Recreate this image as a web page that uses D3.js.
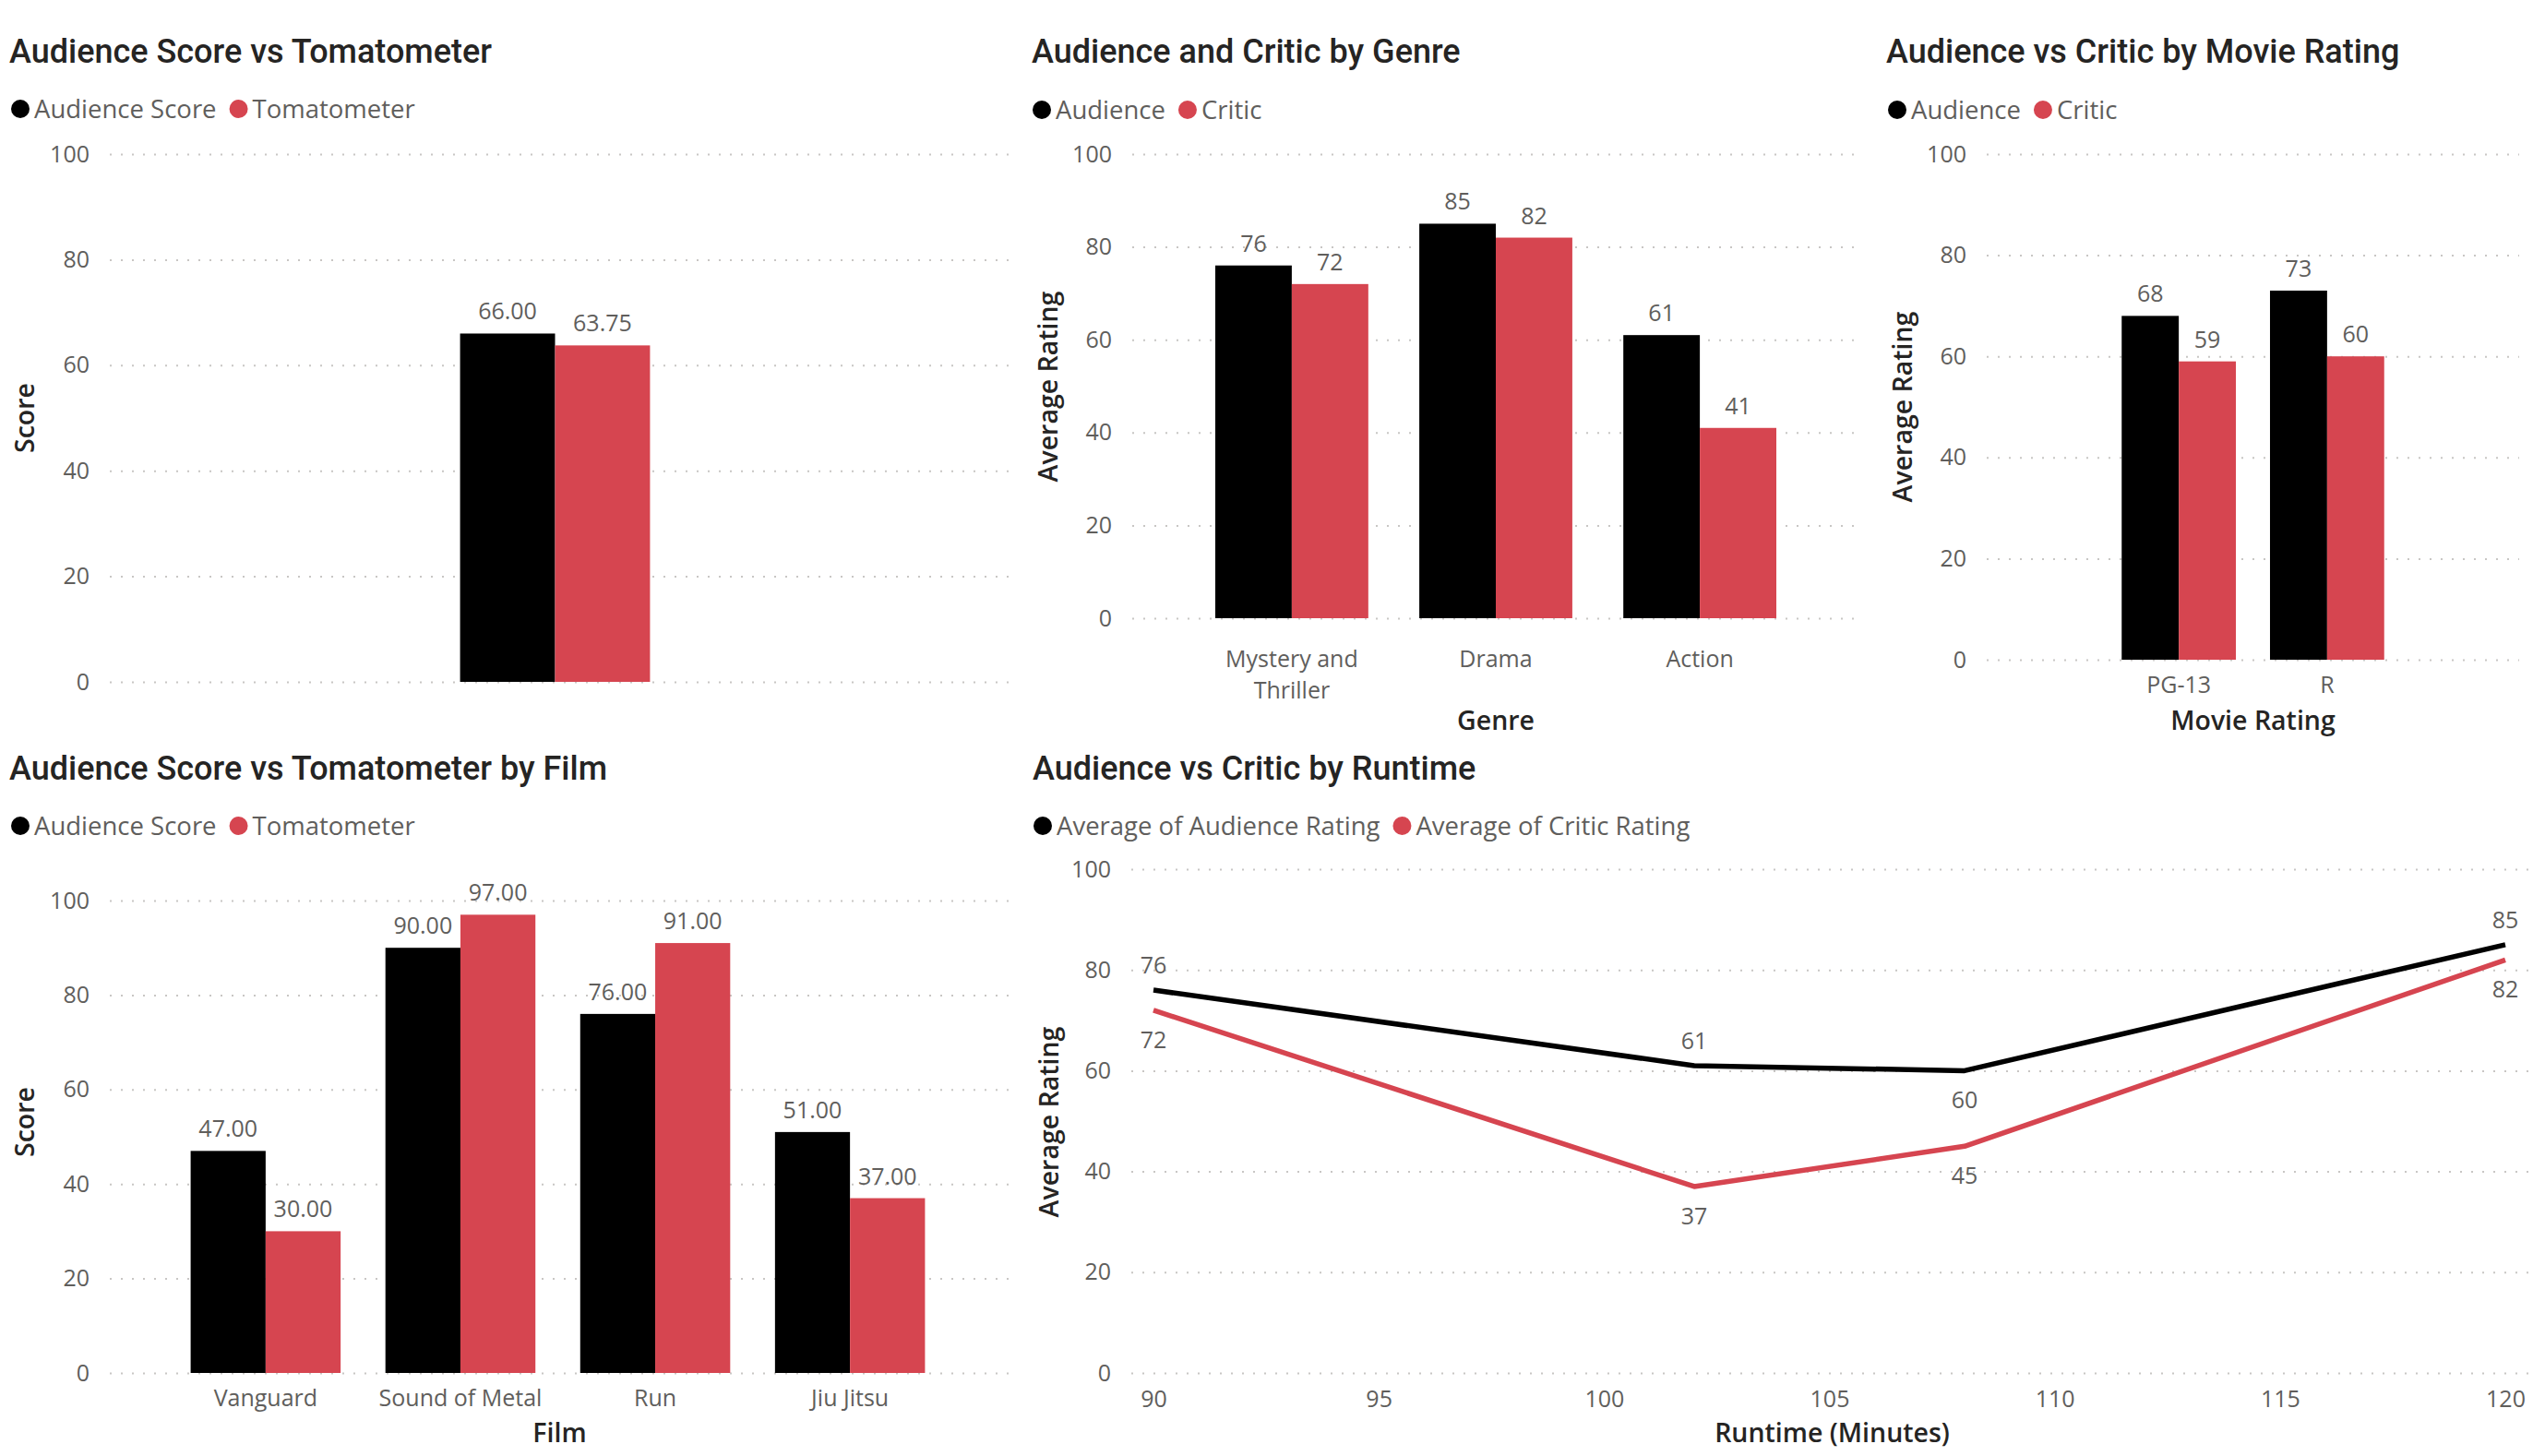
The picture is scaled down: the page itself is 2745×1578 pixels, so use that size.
<!DOCTYPE html>
<html>
<head>
<meta charset="utf-8">
<title>Audience vs Critic</title>
<script src="https://cdn.jsdelivr.net/npm/d3@7"></script>
<style>
    body { margin: 0; background: #fff; }
    svg text { font-family: "Segoe UI", "Open Sans", sans-serif; }
    .title { font-family: "DIN", Roboto, sans-serif; font-size: 36px; font-weight: 500; fill: #252423; }
    .legend-label { font-size: 27.5px; fill: #605E5C; }
    .tick-label { font-size: 25px; fill: #605E5C; }
    .value-label { font-size: 25px; fill: #605E5C; }
    .axis-title { font-size: 28.5px; font-weight: 600; fill: #252423; }
    .grid .tick line { stroke: #C8C6C4; stroke-width: 2; stroke-dasharray: 2 10; }
</style>
</head>
<body>
<svg id="dash" width="2745" height="1578"></svg>
<script>
// ─── DATA ───
const yTicks = [0, 20, 40, 60, 80, 100];
const seriesColors = ["#000000", "#D64550"];

// Audience Score vs Tomatometer (single total)
const overallSeries = ["Audience Score", "Tomatometer"];
const overallCategory = [""];
const overallAudience = [66.00];
const overallTomatometer = [63.75];

// Audience and Critic by Genre
const genreSeries = ["Audience", "Critic"];
const genres = ["Mystery and Thriller", "Drama", "Action"];
const genreAudience = [76, 85, 61];
const genreCritic = [72, 82, 41];

// Audience vs Critic by Movie Rating
const ratingSeries = ["Audience", "Critic"];
const movieRatings = ["PG-13", "R"];
const ratingAudience = [68, 73];
const ratingCritic = [59, 60];

// Audience Score vs Tomatometer by Film
const filmSeries = ["Audience Score", "Tomatometer"];
const films = ["Vanguard", "Sound of Metal", "Run", "Jiu Jitsu"];
const filmAudience = [47, 90, 76, 51];
const filmTomatometer = [30, 97, 91, 37];

// Audience vs Critic by Runtime
const runtimeSeries = ["Average of Audience Rating", "Average of Critic Rating"];
const runtimes = [90, 102, 108, 120];
const runtimeAudience = [76, 61, 60, 85];
const runtimeCritic = [72, 37, 45, 82];
const runtimeTicks = [90, 95, 100, 105, 110, 115, 120];

document.addEventListener('DOMContentLoaded', () => {
    const svg = d3.select("#dash");

    // ─── COMMON UTILS ───
    const drawLegend = (g, x, y, labels) => {
        let cx = x;
        labels.forEach((label, i) => {
            g.append("circle")
                .attr("cx", cx + 10).attr("cy", y).attr("r", 10)
                .attr("fill", seriesColors[i]);
            const t = g.append("text")
                .attr("class", "legend-label")
                .attr("x", cx + 25).attr("y", y)
                .attr("dy", "0.35em")
                .text(label);
            cx += 25 + t.node().getComputedTextLength() + 14;
        });
    };

    const drawYGrid = (g, y, left, right) => {
        g.append("g")
            .attr("class", "grid")
            .attr("transform", `translate(${left},0)`)
            .call(d3.axisLeft(y).tickValues(yTicks).tickSize(-(right - left)).tickPadding(22))
            .call(a => a.select(".domain").remove())
            .call(a => a.selectAll("text").attr("class", "tick-label"));
    };

    const drawYTitle = (g, x, y, label) => {
        g.append("text")
            .attr("class", "axis-title")
            .attr("text-anchor", "middle")
            .attr("transform", `translate(${x},${y}) rotate(-90)`)
            .attr("dy", "0.35em")
            .text(label);
    };

    // wrap long category labels onto several lines
    const wrap = (texts, width) => {
        texts.each(function() {
            const text = d3.select(this);
            const words = text.text().split(/\s+/).reverse();
            const y = text.attr("y");
            const dy = parseFloat(text.attr("dy"));
            let line = [];
            let lineNo = 0;
            let word;
            let tspan = text.text(null).append("tspan").attr("x", 0).attr("y", y).attr("dy", dy + "em");
            while ((word = words.pop())) {
                line.push(word);
                tspan.text(line.join(" "));
                if (tspan.node().getComputedTextLength() > width && line.length > 1) {
                    line.pop();
                    tspan.text(line.join(" "));
                    line = [word];
                    tspan = text.append("tspan").attr("x", 0).attr("y", y)
                        .attr("dy", (++lineNo * 1.36 + dy) + "em").text(word);
                }
            }
        });
    };

    // ─── GROUPED BAR CHART ───
    const renderBarChart = (cfg) => {
        const g = svg.append("g");

        g.append("text").attr("class", "title")
            .attr("x", cfg.titleX).attr("y", cfg.titleY).text(cfg.title);
        drawLegend(g, cfg.legendX, cfg.legendY, cfg.series);

        const x0 = d3.scaleBand()
            .domain(cfg.categories)
            .range([cfg.left, cfg.barRight || cfg.right])
            .paddingInner(cfg.padIn)
            .paddingOuter(cfg.padOut);

        const x1 = d3.scaleBand()
            .domain(d3.range(cfg.series.length))
            .range([0, x0.bandwidth()]);

        const y = d3.scaleLinear()
            .domain([0, 100])
            .range([cfg.y0, cfg.y100]);

        drawYGrid(g, y, cfg.left, cfg.right);

        const rows = cfg.categories.map((c, i) => ({
            cat: c,
            vals: cfg.values.map((s, si) => ({ si, v: s[i] }))
        }));

        const groups = g.selectAll(".group")
            .data(rows)
            .enter()
            .append("g")
            .attr("transform", d => `translate(${x0(d.cat)},0)`);

        groups.selectAll("rect")
            .data(d => d.vals)
            .enter()
            .append("rect")
            .attr("x", d => x1(d.si))
            .attr("y", d => y(d.v))
            .attr("width", x1.bandwidth())
            .attr("height", d => y(0) - y(d.v))
            .attr("fill", d => seriesColors[d.si]);

        groups.selectAll(".value-label")
            .data(d => d.vals)
            .enter()
            .append("text")
            .attr("class", "value-label")
            .attr("text-anchor", "middle")
            .attr("x", d => x1(d.si) + x1.bandwidth() / 2)
            .attr("y", d => y(d.v) - 15)
            .text(d => cfg.format(d.v));

        if (cfg.xTitle) {
            g.append("g")
                .attr("transform", `translate(0,${cfg.y0})`)
                .call(d3.axisBottom(x0).tickSize(0).tickPadding(cfg.xPad))
                .call(a => a.select(".domain").remove())
                .call(a => a.selectAll("text").attr("class", "tick-label").call(wrap, x0.step() * 0.95));

            g.append("text")
                .attr("class", "axis-title")
                .attr("text-anchor", "middle")
                .attr("x", (cfg.left + cfg.right) / 2)
                .attr("y", cfg.xTitleY)
                .text(cfg.xTitle);
        }

        drawYTitle(g, cfg.yTitleX, cfg.yTitleY, cfg.yTitle);
    };

    // ─── LINE CHART ───
    const renderLineChart = (cfg) => {
        const g = svg.append("g");

        g.append("text").attr("class", "title")
            .attr("x", cfg.titleX).attr("y", cfg.titleY).text(cfg.title);
        drawLegend(g, cfg.legendX, cfg.legendY, cfg.series);

        const x = d3.scaleLinear()
            .domain(d3.extent(cfg.xs))
            .range([cfg.x0, cfg.x1]);

        const y = d3.scaleLinear()
            .domain([0, 100])
            .range([cfg.y0, cfg.y100]);

        drawYGrid(g, y, cfg.left, cfg.right);

        g.append("g")
            .attr("transform", `translate(0,${cfg.y0})`)
            .call(d3.axisBottom(x).tickValues(runtimeTicks).tickSize(0).tickPadding(19))
            .call(a => a.select(".domain").remove())
            .call(a => a.selectAll("text").attr("class", "tick-label"));

        const line = d3.line()
            .x(d => x(d.x))
            .y(d => y(d.v));

        cfg.values.forEach((vals, si) => {
            const pts = cfg.xs.map((xv, i) => ({ x: xv, v: vals[i], side: cfg.labelSides[si][i] }));

            g.append("path")
                .datum(pts)
                .attr("d", line)
                .attr("fill", "none")
                .attr("stroke", seriesColors[si])
                .attr("stroke-width", 5.5)
                .attr("stroke-linejoin", "round");

            g.selectAll(null)
                .data(pts)
                .enter()
                .append("text")
                .attr("class", "value-label")
                .attr("text-anchor", "middle")
                .attr("x", d => x(d.x))
                .attr("y", d => d.side === "above" ? y(d.v) - 18 : y(d.v) + 41)
                .text(d => d.v);
        });

        g.append("text")
            .attr("class", "axis-title")
            .attr("text-anchor", "middle")
            .attr("x", (cfg.left + cfg.right) / 2)
            .attr("y", cfg.xTitleY)
            .text(cfg.xTitle);

        drawYTitle(g, cfg.yTitleX, cfg.yTitleY, cfg.yTitle);
    };

    // ─── RENDER ───
    const fmt2 = d3.format(".2f");
    const fmt0 = d3.format(".0f");

    renderBarChart({
        title: "Audience Score vs Tomatometer", titleX: 10, titleY: 68,
        series: overallSeries, legendX: 12, legendY: 118,
        categories: overallCategory, values: [overallAudience, overallTomatometer],
        left: 119, right: 1094, barRight: 1084, padIn: 0.23, padOut: 1.42,
        y0: 739, y100: 167, format: fmt2,
        yTitle: "Score", yTitleX: 27, yTitleY: 453
    });

    renderBarChart({
        title: "Audience and Critic by Genre", titleX: 1118, titleY: 68,
        series: genreSeries, legendX: 1119, legendY: 119,
        categories: genres, values: [genreAudience, genreCritic],
        left: 1227, right: 2015, padIn: 0.25, padOut: 0.407,
        y0: 670, y100: 167, format: fmt0,
        xTitle: "Genre", xTitleY: 791, xPad: 35,
        yTitle: "Average Rating", yTitleX: 1136, yTitleY: 419
    });

    renderBarChart({
        title: "Audience vs Critic by Movie Rating", titleX: 2044, titleY: 68,
        series: ratingSeries, legendX: 2046, legendY: 119,
        categories: movieRatings, values: [ratingAudience, ratingCritic],
        left: 2153, right: 2730, padIn: 0.23, padOut: 0.91,
        y0: 715, y100: 167, format: fmt0,
        xTitle: "Movie Rating", xTitleY: 791, xPad: 18,
        yTitle: "Average Rating", yTitleX: 2062, yTitleY: 441
    });

    renderBarChart({
        title: "Audience Score vs Tomatometer by Film", titleX: 10, titleY: 845,
        series: filmSeries, legendX: 12, legendY: 895,
        categories: films, values: [filmAudience, filmTomatometer],
        left: 119, right: 1094, barRight: 1090, padIn: 0.23, padOut: 0.415,
        y0: 1488, y100: 976, format: fmt2,
        xTitle: "Film", xTitleY: 1563, xPad: 18,
        yTitle: "Score", yTitleX: 27, yTitleY: 1216
    });

    renderLineChart({
        title: "Audience vs Critic by Runtime", titleX: 1119, titleY: 845,
        series: runtimeSeries, legendX: 1120, legendY: 895,
        xs: runtimes, values: [runtimeAudience, runtimeCritic],
        labelSides: [["above", "above", "below", "above"], ["below", "below", "below", "below"]],
        left: 1226, right: 2745, x0: 1250, x1: 2715,
        y0: 1488, y100: 942,
        xTitle: "Runtime (Minutes)", xTitleY: 1563,
        yTitle: "Average Rating", yTitleX: 1137, yTitleY: 1216
    });
});
</script>
</body>
</html>
